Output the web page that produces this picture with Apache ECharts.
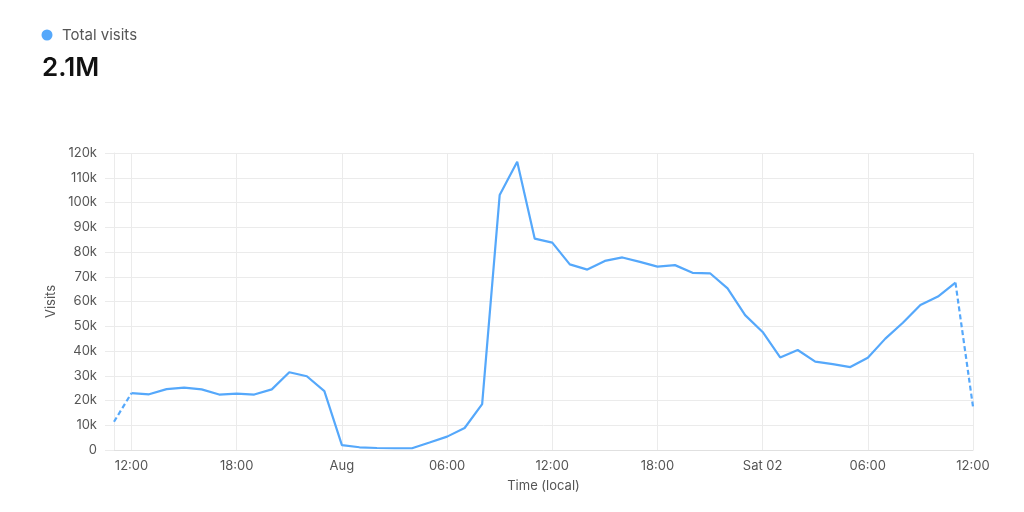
<!DOCTYPE html>
<html><head><meta charset="utf-8">
<script src="https://cdn.jsdelivr.net/npm/echarts@6/dist/echarts.min.js"></script>
<style>html,body{margin:0;padding:0;background:#fff}#c{width:1024px;height:512px}</style>
</head><body><div id="c"></div>
<script>
// Hourly timestamps (UTC-treated as local display)
const times = [
  '2025-07-31T11:00','2025-07-31T12:00','2025-07-31T13:00','2025-07-31T14:00','2025-07-31T15:00',
  '2025-07-31T16:00','2025-07-31T17:00','2025-07-31T18:00','2025-07-31T19:00','2025-07-31T20:00',
  '2025-07-31T21:00','2025-07-31T22:00','2025-07-31T23:00',
  '2025-08-01T00:00','2025-08-01T01:00','2025-08-01T02:00','2025-08-01T03:00','2025-08-01T04:00',
  '2025-08-01T05:00','2025-08-01T06:00','2025-08-01T07:00','2025-08-01T08:00','2025-08-01T09:00',
  '2025-08-01T10:00','2025-08-01T11:00','2025-08-01T12:00','2025-08-01T13:00','2025-08-01T14:00',
  '2025-08-01T15:00','2025-08-01T16:00','2025-08-01T17:00','2025-08-01T18:00','2025-08-01T19:00',
  '2025-08-01T20:00','2025-08-01T21:00','2025-08-01T22:00','2025-08-01T23:00',
  '2025-08-02T00:00','2025-08-02T01:00','2025-08-02T02:00','2025-08-02T03:00','2025-08-02T04:00',
  '2025-08-02T05:00','2025-08-02T06:00','2025-08-02T07:00','2025-08-02T08:00','2025-08-02T09:00',
  '2025-08-02T10:00','2025-08-02T11:00','2025-08-02T12:00'
];
const visits = [
  11400, 23000, 22500, 24600, 25200, 24500, 22400, 22800, 22400, 24500, 31400, 29800, 23800,
  2000, 1100, 800, 700, 700, 3000, 5400, 8900, 18500, 103000, 116500, 85400, 83800, 75000, 72900,
  76400, 77800, 76000, 74100, 74700, 71600, 71400, 65300, 54500,
  47700, 37400, 40400, 35700, 34700, 33500, 37300, 45000, 51400, 58600, 62000, 67600, 17500
];
const tickTimes = [
  '2025-07-31T12:00','2025-07-31T18:00','2025-08-01T00:00','2025-08-01T06:00','2025-08-01T12:00',
  '2025-08-01T18:00','2025-08-02T00:00','2025-08-02T06:00','2025-08-02T12:00'
];
const tickLabels = ['12:00','18:00','Aug','06:00','12:00','18:00','Sat 02','06:00','12:00'];
const seriesName = 'Total visits';
const totalLabel = '2.1M';

const toMs = s => Date.parse(s + ':00Z');
const pts = times.map((t, i) => [toMs(t), visits[i]]);
const tickMs = tickTimes.map(toMs);
const n = pts.length;
const color = '#55a8fb';
const gridColor = '#ebebeb';
const font = 'Inter, "Noto Sans", sans-serif';

const chart = echarts.init(document.getElementById('c'));
chart.setOption({
  animation: false,
  textStyle: { fontFamily: font },
  graphic: [
    { type: 'circle', shape: { cx: 47, cy: 35, r: 5.5 }, style: { fill: color } },
    { type: 'text', x: 62, y: 35, style: { text: seriesName, fill: '#555', font: '15px ' + font, verticalAlign: 'middle' } },
    { type: 'text', x: 42, y: 68, style: { text: totalLabel, fill: '#111', font: '600 26px ' + font, verticalAlign: 'middle' } }
  ],
  grid: { left: 114, right: 51, top: 153, bottom: 62 },
  xAxis: {
    type: 'value',
    min: pts[0][0], max: pts[n - 1][0],
    name: 'Time (local)', nameLocation: 'middle', nameGap: 30,
    nameTextStyle: { fontSize: 13, color: '#555' },
    axisLine: { show: true, lineStyle: { color: '#e0e0e0' } },
    axisTick: { show: false, customValues: tickMs },
    axisLabel: {
      customValues: tickMs, margin: 10, fontSize: 13, color: '#555',
      formatter: v => { const i = tickMs.indexOf(v); return i >= 0 ? tickLabels[i] : ''; }
    },
    splitLine: { show: true, lineStyle: { color: gridColor } }
  },
  yAxis: {
    type: 'value', min: 0, max: 120000, interval: 10000,
    name: 'Visits', nameLocation: 'middle', nameGap: 54, nameRotate: 90,
    nameTextStyle: { fontSize: 13, color: '#555' },
    axisLine: { show: true, lineStyle: { color: gridColor } },
    axisTick: { show: true, length: 9, lineStyle: { color: gridColor } },
    axisLabel: {
      margin: 17, fontSize: 13, color: '#555',
      formatter: v => v === 0 ? '0' : (v / 1000) + 'k'
    },
    splitLine: { show: true, lineStyle: { color: gridColor } }
  },
  series: [
    {
      name: seriesName, type: 'line', data: pts.slice(1, n - 1), showSymbol: false, symbol: 'none',
      lineStyle: { color: color, width: 2.2 }, itemStyle: { color: color }
    },
    {
      name: 'start', type: 'line', data: pts.slice(0, 2), showSymbol: false, symbol: 'none',
      lineStyle: { color: color, width: 2.2, type: [5, 3] }, itemStyle: { color: color }
    },
    {
      name: 'end', type: 'line', data: pts.slice(n - 2), showSymbol: false, symbol: 'none',
      lineStyle: { color: color, width: 2.2, type: [5, 3] }, itemStyle: { color: color }
    }
  ]
});
</script>
</body></html>
